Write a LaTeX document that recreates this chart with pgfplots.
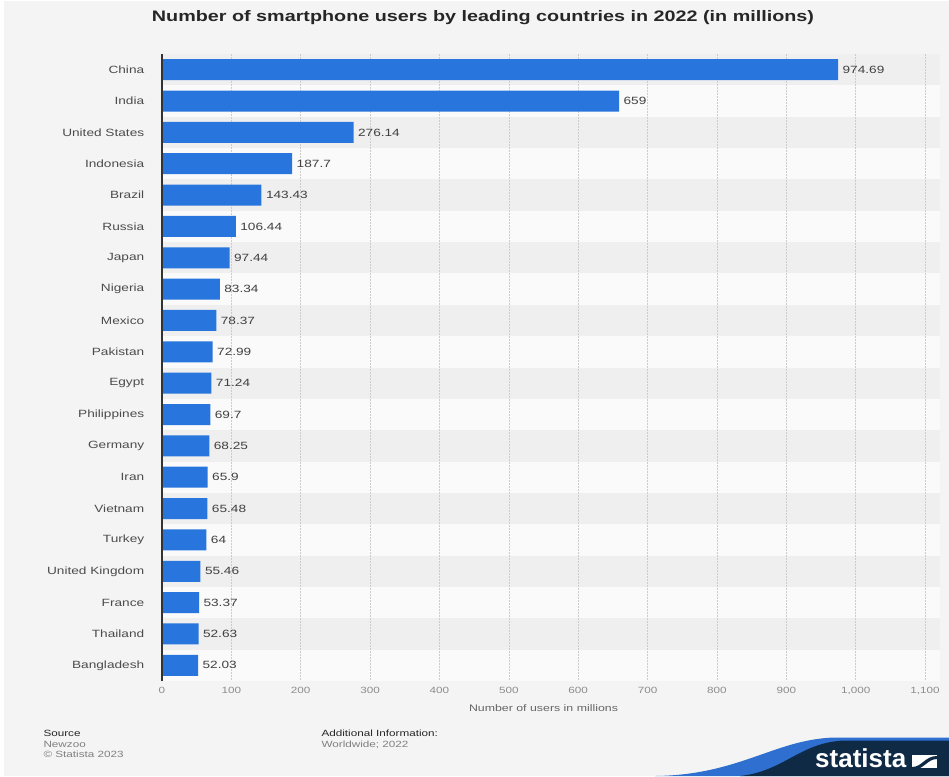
\documentclass[border=0pt]{standalone}
\usepackage{pgfplots}
\pgfplotsset{compat=1.18}
\usepackage{fontspec}
\setmainfont[FakeStretch=1.3]{Liberation Sans}
\newfontfamily\logofont{Liberation Sans}
\definecolor{panel}{HTML}{F4F4F4}
\definecolor{bandd}{HTML}{EFEFEF}
\definecolor{bandl}{HTML}{FAFAFA}
\definecolor{barblue}{HTML}{2876DD}
\definecolor{navy}{HTML}{0F2A44}
\definecolor{wave}{HTML}{2E6FD0}

\begin{document}
\begin{tikzpicture}[x=1pt,y=1pt]
\fill[white] (0,0) rectangle (949,-776);
\fill[panel] (4,-1) rectangle (949,-776);

% alternating row bands behind the plot area (20 rows of 31.35pt)
\foreach \i in {0,...,19}{
  \pgfmathsetmacro{\ytop}{-54-31.35*\i}
  \pgfmathsetmacro{\ybot}{\ytop-31.35}
  \pgfmathparse{mod(\i,2)==0 ? "bandd" : "bandl"}
  \fill[\pgfmathresult] (162,\ytop) rectangle (940,\ybot);
}

\node[font=\bfseries\fontsize{15.2}{18}\selectfont, text=black!85] at (483,-18)
  {Number of smartphone users by leading countries in 2022 (in millions)};

\begin{axis}[
  at={(162pt,-681pt)}, anchor=south west,
  width=763pt, height=627pt, scale only axis,
  xmin=0, xmax=1100, ymin=-0.5, ymax=19.5, y dir=reverse,
  xbar, bar width=21pt,
  clip=false,
  axis line style={draw=none},
  tick style={draw=none},
  xtick={0,100,...,1100},
  ytick={0,...,19},
  yticklabels={China,India,United States,Indonesia,Brazil,Russia,Japan,Nigeria,Mexico,Pakistan,Egypt,Philippines,Germany,Iran,Vietnam,Turkey,United Kingdom,France,Thailand,Bangladesh},
  /pgf/number format/assume math mode=true,
  /pgf/number format/1000 sep={,},
  xticklabel style={font=\fontsize{9}{10}\selectfont, text=black!45, yshift=-3pt},
  yticklabel style={font=\fontsize{10.5}{12}\selectfont, text=black!70, xshift=-10pt},
  xlabel={Number of users in millions},
  xlabel style={at={(rel axis cs:0.5,0)}, anchor=center, yshift=-27pt,
    font=\fontsize{9.5}{11}\selectfont, text=black!60},
  xmajorgrids,
  grid style={black!20, dash pattern=on 1.5pt off 1.5pt, line width=0.6pt},
  nodes near coords={\pgfmathprintnumber[fixed,precision=2]{\pgfplotspointmeta}},
  nodes near coords style={font=\fontsize{10.5}{12}\selectfont, text=black!75, xshift=1pt},
]
\addplot[fill=barblue, draw=none] coordinates {
(974.69,0) (659,1) (276.14,2) (187.7,3) (143.43,4) (106.44,5) (97.44,6) (83.34,7) (78.37,8) (72.99,9)
(71.24,10) (69.7,11) (68.25,12) (65.9,13) (65.48,14) (64,15) (55.46,16) (53.37,17) (52.63,18) (52.03,19)
};
\draw[black!80, line width=1.2pt] (rel axis cs:0,0) -- (rel axis cs:0,1);
\end{axis}

% footer
\node[anchor=base west, font=\fontsize{9}{10}\selectfont, text=black!85] at (40,-736) {Source};
\node[anchor=base west, font=\fontsize{9}{10}\selectfont, text=black!50] at (40,-747) {Newzoo};
\node[anchor=base west, font=\fontsize{9}{10}\selectfont, text=black!50] at (40,-757) {\textcopyright{} Statista 2023};
\node[anchor=base west, font=\fontsize{9}{10}\selectfont, text=black!85] at (318,-736) {Additional Information:};
\node[anchor=base west, font=\fontsize{9}{10}\selectfont, text=black!50] at (318,-747) {Worldwide; 2022};

% logo
\fill[wave] (655,-776) .. controls (740,-775) and (775,-739) .. (835,-737.5) -- (949,-737.5) -- (949,-776) -- cycle;
\fill[navy] (740,-776) .. controls (785,-771) and (800,-742) .. (845,-740.5) -- (949,-740.5) -- (949,-776) -- cycle;
\node[anchor=base west, font=\logofont\bfseries\fontsize{26}{28}\selectfont, text=white, inner sep=0pt] at (815,-767) {statista};
\fill[white] (912,-755) rectangle (937,-768);
\fill[navy] (912,-767) .. controls (922,-767) and (925,-756) .. (937,-756) -- (937,-759) .. controls (927,-759) and (924,-770) .. (912,-770) -- cycle;
\end{tikzpicture}
\end{document}
